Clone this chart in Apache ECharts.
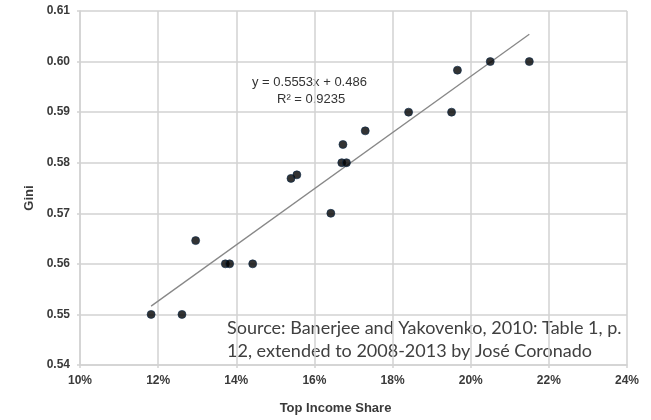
<!DOCTYPE html>
<html>
<head>
<meta charset="utf-8">
<script src="https://cdn.jsdelivr.net/npm/echarts@6/dist/echarts.min.js"></script>
<style>html,body{margin:0;padding:0;background:#fff}#c{width:651px;height:420px}</style>
</head>
<body>
<div id="c"></div>
<script>
// Top income share (%) and Gini coefficient
const topIncomeShare = [11.82, 12.61, 12.96, 13.72, 13.83, 14.42, 15.40, 15.55, 16.42, 16.73, 16.70, 16.82, 17.30, 18.41, 19.51, 19.66, 20.50, 21.50];
const gini =           [0.550, 0.550, 0.5646, 0.560, 0.560, 0.560, 0.5769, 0.5776, 0.570, 0.5836, 0.580, 0.580, 0.5863, 0.590, 0.590, 0.5983, 0.600, 0.600];
const trendSlope = 0.5553;
const trendIntercept = 0.486;
const rSquared = 0.9235;
const xTicks = [10, 12, 14, 16, 18, 20, 22, 24];
const yTicks = [0.54, 0.55, 0.56, 0.57, 0.58, 0.59, 0.60, 0.61];
const sourceLines = ['Source: Banerjee and Yakovenko, 2010: Table 1, p.', '12, extended to 2008-2013 by José Coronado'];

const points = topIncomeShare.map((x, i) => [x, gini[i]]);
const xMin = Math.min(...topIncomeShare), xMax = Math.max(...topIncomeShare);
const trend = [xMin, xMax].map(x => [x, trendSlope * x / 100 + trendIntercept]);

const chart = echarts.init(document.getElementById('c'), null, {renderer: 'canvas'});
const gridCol = '#d2d2d2';
const labelStyle = {color: '#3a3a3a', fontWeight: 'bold', fontSize: 12, fontFamily: 'Liberation Sans, Arial, sans-serif'};
chart.setOption({
  animation: false,
  backgroundColor: '#fff',
  grid: {left: 80, right: 24, top: 11, bottom: 53, containLabel: false},
  xAxis: {
    type: 'value', min: xTicks[0], max: xTicks[xTicks.length - 1], interval: 2,
    name: 'Top Income Share', nameLocation: 'middle', nameGap: 37,
    nameTextStyle: Object.assign({}, labelStyle, {fontSize: 13, padding: [0, 36, 0, 0]}),
    axisLine: {show: true, lineStyle: {color: gridCol, width: 1.5}},
    axisTick: {show: true, length: 3, lineStyle: {color: gridCol, width: 1.5}},
    splitLine: {show: true, lineStyle: {color: gridCol, width: 1.5}},
    axisLabel: Object.assign({}, labelStyle, {margin: 10, formatter: v => v + '%'})
  },
  yAxis: {
    type: 'value', min: yTicks[0], max: yTicks[yTicks.length - 1], interval: 0.01,
    name: 'Gini', nameLocation: 'middle', nameGap: 42, nameRotate: 90,
    nameTextStyle: Object.assign({}, labelStyle, {fontSize: 13, padding: [0, 20, 0, 0]}),
    axisLine: {show: true, lineStyle: {color: gridCol, width: 1.5}},
    axisTick: {show: true, length: 3, lineStyle: {color: gridCol, width: 1.5}},
    splitLine: {show: true, lineStyle: {color: gridCol, width: 1.5}},
    axisLabel: Object.assign({}, labelStyle, {margin: 10, formatter: v => v.toFixed(2)})
  },
  series: [
    {
      type: 'line', data: trend, showSymbol: false, symbol: 'none', silent: true,
      lineStyle: {color: '#888', width: 1.3}, z: 2
    },
    {
      type: 'scatter', data: points, symbolSize: 8,
      itemStyle: {color: '#000', borderColor: '#0d2a4a', borderWidth: 0.8}, z: 3
    }
  ],
  graphic: [
    {type: 'text', left: 252, top: 76, style: {text: 'y = ' + trendSlope + 'x + ' + trendIntercept, fill: '#333', font: '13px Liberation Sans, Arial, sans-serif'}},
    {type: 'text', left: 277, top: 93, style: {text: 'R² = ' + rSquared, fill: '#333', font: '13px Liberation Sans, Arial, sans-serif'}},
    {type: 'text', left: 227, top: 317, style: {text: sourceLines.join('\n'), fill: '#404040', lineHeight: 23, font: '18px Lato, sans-serif'}}
  ]
});
</script>
</body>
</html>
